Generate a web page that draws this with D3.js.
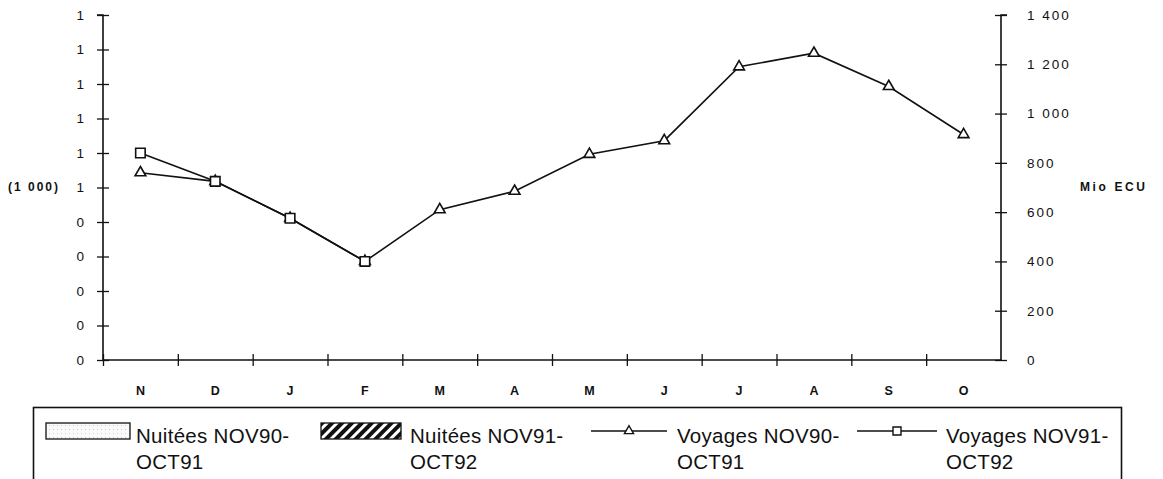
<!DOCTYPE html>
<html><head><meta charset="utf-8">
<script src="https://cdn.jsdelivr.net/npm/d3@7"></script>
<style>
body{margin:0;background:#fff;}
svg{display:block;font-family:"Liberation Sans",Arial,sans-serif;}
</style></head>
<body><svg id="c" width="1163" height="479"></svg>
<script>
// ---- data ----
const months = ["N","D","J","F","M","A","M","J","J","A","S","O"];
const nuiteesNov90Oct91 = [null,null,null,null,null,null,null,null,null,null,null,null];
const nuiteesNov91Oct92 = [null,null,null,null,null,null,null,null,null,null,null,null];
const voyagesNov90Oct91 = [760,725,575,400,610,685,835,890,1190,1245,1110,915];
const voyagesNov91Oct92 = [840,725,575,400];
const leftTicks = [0,0.1,0.2,0.3,0.4,0.5,0.6,0.7,0.8,0.9,1.0];
const leftTickLabels = ["0","0","0","0","0","1","1","1","1","1","1"];
const rightTicks = [0,200,400,600,800,1000,1200,1400];
const rightTickLabels = ["0","200","400","600","800","1 000","1 200","1 400"];
const legendItems = [
  {type:"dots", l1:"Nuitées NOV90-", l2:"OCT91"},
  {type:"hatch", l1:"Nuitées NOV91-", l2:"OCT92"},
  {type:"tri", l1:"Voyages NOV90-", l2:"OCT91"},
  {type:"sq", l1:"Voyages NOV91-", l2:"OCT92"}
];

const svg = d3.select("#c");
const L = 103, R = 1001, T = 15, B = 360;
const x = d3.scaleBand().domain(d3.range(months.length)).range([L, R]);
const yL = d3.scaleLinear().domain([0, 1]).range([B, T]);
const yR = d3.scaleLinear().domain([0, 1400]).range([B, T]);

const defs = svg.append("defs");
const pd = defs.append("pattern").attr("id","dots").attr("patternUnits","userSpaceOnUse").attr("width",4).attr("height",4);
pd.append("rect").attr("width",4).attr("height",4).attr("fill","#fafafa");
pd.append("rect").attr("x",1).attr("y",1).attr("width",1).attr("height",1).attr("fill","#cfcfcf");
const ph = defs.append("pattern").attr("id","hatch").attr("patternUnits","userSpaceOnUse").attr("width",7).attr("height",7).attr("patternTransform","rotate(45)");
ph.append("rect").attr("width",7).attr("height",7).attr("fill","#fff");
ph.append("rect").attr("width",4).attr("height",7).attr("fill","#111");

// left axis
const gL = svg.append("g").attr("transform",`translate(${L},0)`)
  .call(d3.axisLeft(yL).tickValues(leftTicks).tickFormat((d,i)=>leftTickLabels[i]).tickSize(5).tickPadding(12));
// right axis
const gR = svg.append("g").attr("transform",`translate(${R},0)`)
  .call(d3.axisRight(yR).tickValues(rightTicks).tickFormat((d,i)=>rightTickLabels[i]).tickSize(5).tickPadding(21));
// x axis (ticks at band boundaries)
const bounds = d3.range(months.length).map(i => x(i));
const gX = svg.append("g").attr("transform",`translate(0,${B})`)
  .call(d3.axisBottom(d3.scaleLinear().domain([L,R]).range([L,R])).tickValues(bounds).tickFormat("").tickSize(5));
[gL,gR,gX].forEach(g=>{
  g.select(".domain").attr("stroke","#111").attr("stroke-width",1.6);
  g.selectAll(".tick line").attr("stroke","#111").attr("stroke-width",1.3);
  g.selectAll("text").attr("font-size",13.5).attr("fill","#111").style("letter-spacing","2px");
});
gL.selectAll(".tick line").attr("x1",-6).attr("x2",6);
gR.selectAll(".tick line").attr("x1",-6).attr("x2",6);
gX.selectAll(".tick line").attr("y1",-6).attr("y2",6);
gR.select(".domain").attr("d",`M6,${T}H0V${B}H0`);
gL.select(".domain").attr("d",`M-6,${T}H0V${B}H0`);
gX.select(".domain").attr("d",`M${L},0H${R}`);

// x labels
svg.append("g").selectAll("text").data(months).join("text")
  .attr("x",(d,i)=>x(i)+x.bandwidth()/2).attr("y",395)
  .attr("text-anchor","middle").attr("font-size",12.5).attr("font-weight","bold").attr("fill","#111").text(d=>d);

svg.append("text").attr("x",8).attr("y",191).attr("font-size",12).attr("font-weight","bold").attr("fill","#111").style("letter-spacing","2px").text("(1 000)");
svg.append("text").attr("x",1080).attr("y",191).attr("font-size",12).attr("font-weight","bold").attr("fill","#111").style("letter-spacing","2.6px").text("Mio ECU");

// lines
const cx = i => x(i)+x.bandwidth()/2;
const line = d3.line().defined(d=>d!=null).x((d,i)=>cx(i)).y(d=>yR(d));
svg.append("path").datum(voyagesNov90Oct91).attr("d",line).attr("fill","none").attr("stroke","#111").attr("stroke-width",1.6);
svg.append("path").datum(voyagesNov91Oct92).attr("d",line).attr("fill","none").attr("stroke","#111").attr("stroke-width",1.6);
const tri = d3.symbol().type(d3.symbolTriangle).size(50);
const sq = d3.symbol().type(d3.symbolSquare).size(90);
svg.append("g").selectAll("path").data(voyagesNov90Oct91).join("path")
  .attr("transform",(d,i)=>`translate(${cx(i)},${yR(d)})`).attr("d",tri())
  .attr("fill","#fff").attr("stroke","#111").attr("stroke-width",1.6);
svg.append("g").selectAll("path").data(voyagesNov91Oct92).join("path")
  .attr("transform",(d,i)=>`translate(${cx(i)},${yR(d)})`).attr("d",sq())
  .attr("fill","#fff").attr("stroke","#111").attr("stroke-width",1.6);

// legend
svg.append("rect").attr("x",33.5).attr("y",407.5).attr("width",1088).attr("height",100)
  .attr("fill","none").attr("stroke","#111").attr("stroke-width",1.6);
const lx = [46, 321, 591, 857];
const lw = [84, 80, 76, 80];
const tx = [136, 410, 677, 946];
const tri2 = d3.symbol().type(d3.symbolTriangle).size(36);
const sq2 = d3.symbol().type(d3.symbolSquare).size(64);
legendItems.forEach((it,i)=>{
  const g = svg.append("g");
  if(it.type==="dots"||it.type==="hatch"){
    g.append("rect").attr("x",lx[i]).attr("y",423).attr("width",lw[i]).attr("height",16)
      .attr("fill",`url(#${it.type})`).attr("stroke","#111").attr("stroke-width",1.3);
  } else {
    g.append("line").attr("x1",lx[i]).attr("x2",lx[i]+lw[i]).attr("y1",431).attr("y2",431).attr("stroke","#111").attr("stroke-width",1.4);
    g.append("path").attr("transform",`translate(${lx[i]+lw[i]/2},431)`).attr("d",(it.type==="tri"?tri2:sq2)())
      .attr("fill","#fff").attr("stroke","#111").attr("stroke-width",1.4);
  }
  const t = g.append("text").attr("font-size",20.5).attr("fill","#111").style("letter-spacing","0.3px");
  t.append("tspan").attr("x",tx[i]).attr("y",443).text(it.l1);
  t.append("tspan").attr("x",tx[i]).attr("y",469).text(it.l2);
});
</script></body></html>
